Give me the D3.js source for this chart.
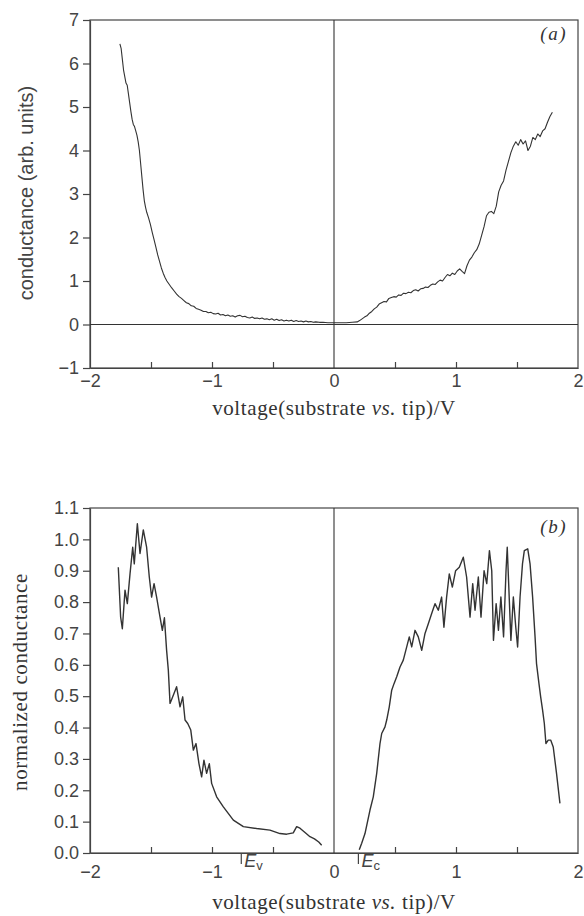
<!DOCTYPE html>
<html>
<head>
<meta charset="utf-8">
<title>conductance spectra</title>
<script src="https://cdn.jsdelivr.net/npm/d3@7"></script>
<style>
  body { margin: 0; background: #fff; }
  .axis path, .axis line { stroke: #444; stroke-width: 1.2; }
  .axis text { font-family: "Liberation Sans", Arial, sans-serif; font-size: 18px; fill: #444; }
  .frame { fill: none; stroke: #444; stroke-width: 1.2; }
  .zero { stroke: #333; stroke-width: 1.1; }
  .curve { fill: none; stroke: #333; stroke-linejoin: round; }
  .serif { font-family: "Liberation Serif", "Times New Roman", serif; fill: #333; }
</style>
</head>
<body>
<script>
// panel (a): conductance, arb. units
var aVolt = [-1.755,-1.745,-1.735,-1.725,-1.715,-1.705,-1.695,-1.685,-1.675,-1.665,-1.655,-1.645,-1.635,-1.625,-1.615,-1.605,-1.595,-1.585,-1.575,-1.565,-1.555,-1.545,-1.535,-1.52,-1.505,-1.49,-1.475,-1.46,-1.445,-1.43,-1.415,-1.40,-1.385,-1.37,-1.35,-1.33,-1.31,-1.29,-1.27,-1.25,-1.23,-1.21,-1.19,-1.17,-1.15,-1.13,-1.11,-1.09,-1.07,-1.05,-1.03,-1.01,-0.99,-0.97,-0.95,-0.93,-0.91,-0.89,-0.87,-0.85,-0.83,-0.81,-0.79,-0.77,-0.75,-0.73,-0.71,-0.69,-0.67,-0.65,-0.63,-0.61,-0.59,-0.57,-0.55,-0.53,-0.51,-0.49,-0.47,-0.45,-0.43,-0.41,-0.39,-0.37,-0.35,-0.33,-0.31,-0.29,-0.27,-0.25,-0.23,-0.21,-0.19,-0.17,-0.15,-0.12,-0.09,-0.05,0.0,0.05,0.1,0.15,0.19,0.21,0.23,0.25,0.27,0.29,0.31,0.33,0.35,0.37,0.39,0.41,0.43,0.45,0.47,0.49,0.51,0.53,0.55,0.57,0.59,0.61,0.63,0.65,0.67,0.69,0.71,0.73,0.75,0.77,0.79,0.81,0.83,0.85,0.87,0.89,0.91,0.93,0.95,0.97,0.99,1.01,1.03,1.05,1.07,1.09,1.11,1.13,1.15,1.17,1.19,1.21,1.23,1.25,1.27,1.29,1.31,1.33,1.35,1.37,1.39,1.41,1.43,1.45,1.47,1.49,1.51,1.53,1.55,1.57,1.59,1.61,1.63,1.65,1.67,1.69,1.71,1.73,1.75,1.77,1.79];
var aCond = [6.45,6.35,6.1,5.85,5.7,5.55,5.5,5.3,5.1,4.9,4.72,4.6,4.55,4.45,4.35,4.2,4.0,3.7,3.4,3.1,2.85,2.7,2.58,2.45,2.3,2.12,1.95,1.78,1.6,1.45,1.3,1.18,1.08,1.0,0.92,0.84,0.77,0.7,0.64,0.6,0.55,0.5,0.48,0.43,0.42,0.37,0.35,0.33,0.3,0.3,0.27,0.28,0.25,0.24,0.26,0.22,0.23,0.2,0.22,0.19,0.2,0.17,0.2,0.21,0.18,0.19,0.16,0.15,0.17,0.14,0.15,0.13,0.15,0.12,0.13,0.11,0.13,0.1,0.12,0.09,0.11,0.08,0.1,0.08,0.1,0.07,0.09,0.07,0.08,0.06,0.08,0.06,0.07,0.05,0.06,0.05,0.05,0.04,0.04,0.04,0.04,0.05,0.06,0.09,0.13,0.17,0.2,0.26,0.3,0.36,0.4,0.47,0.5,0.53,0.52,0.6,0.62,0.64,0.63,0.68,0.67,0.72,0.71,0.74,0.73,0.78,0.8,0.77,0.82,0.83,0.86,0.85,0.9,0.93,0.92,0.98,1.02,1.0,1.08,1.15,1.12,1.18,1.15,1.23,1.28,1.22,1.17,1.35,1.48,1.55,1.65,1.72,1.85,2.05,2.25,2.5,2.58,2.6,2.55,2.72,3.05,3.2,3.3,3.55,3.75,3.95,4.1,4.2,4.12,4.25,4.15,4.22,4.0,4.1,4.3,4.25,4.38,4.32,4.45,4.5,4.65,4.78,4.88];

// panel (b): normalized conductance, two branches either side of the gap
var bLeftVolt = [-1.768,-1.749,-1.735,-1.713,-1.694,-1.672,-1.65,-1.637,-1.612,-1.59,-1.563,-1.536,-1.514,-1.495,-1.475,-1.454,-1.426,-1.407,-1.39,-1.372,-1.358,-1.344,-1.322,-1.29,-1.262,-1.24,-1.221,-1.199,-1.174,-1.153,-1.131,-1.107,-1.085,-1.066,-1.044,-1.022,-1.003,-0.962,-0.907,-0.825,-0.743,-0.634,-0.525,-0.443,-0.388,-0.334,-0.306,-0.279,-0.24,-0.197,-0.16,-0.125,-0.101];
var bLeftCond = [0.911,0.753,0.715,0.838,0.795,0.89,0.975,0.922,1.05,0.955,1.03,0.975,0.88,0.816,0.859,0.816,0.752,0.71,0.75,0.646,0.583,0.477,0.498,0.53,0.466,0.498,0.424,0.413,0.392,0.328,0.349,0.285,0.243,0.296,0.254,0.285,0.222,0.179,0.147,0.105,0.084,0.078,0.073,0.062,0.06,0.064,0.084,0.079,0.066,0.052,0.045,0.035,0.025];
var bRightVolt = [0.207,0.227,0.254,0.295,0.322,0.35,0.377,0.391,0.418,0.432,0.453,0.473,0.492,0.514,0.541,0.568,0.596,0.617,0.637,0.664,0.691,0.719,0.746,0.773,0.8,0.828,0.855,0.882,0.901,0.923,0.945,0.97,0.997,1.027,1.06,1.087,1.115,1.137,1.156,1.183,1.205,1.23,1.252,1.274,1.293,1.307,1.329,1.348,1.368,1.39,1.41,1.42,1.436,1.45,1.47,1.49,1.505,1.525,1.545,1.56,1.588,1.607,1.628,1.648,1.66,1.68,1.694,1.71,1.724,1.737,1.756,1.776,1.797,1.824,1.852];
var bRightCond = [0.01,0.031,0.062,0.137,0.179,0.254,0.349,0.381,0.402,0.424,0.466,0.519,0.54,0.562,0.593,0.615,0.657,0.689,0.657,0.71,0.689,0.646,0.7,0.731,0.763,0.795,0.774,0.816,0.72,0.816,0.89,0.848,0.9,0.911,0.943,0.88,0.752,0.859,0.774,0.88,0.752,0.9,0.859,0.964,0.9,0.678,0.795,0.71,0.816,0.689,0.9,0.975,0.816,0.678,0.816,0.72,0.657,0.816,0.922,0.964,0.97,0.922,0.816,0.689,0.604,0.54,0.498,0.455,0.413,0.349,0.36,0.36,0.338,0.254,0.158];

var aYTicks = [-1, 0, 1, 2, 3, 4, 5, 6, 7];
var bYTicks = [0, 0.1, 0.2, 0.3, 0.4, 0.5, 0.6, 0.7, 0.8, 0.9, 1.0, 1.1];
var xTicks = [-2, -1.5, -1, -0.5, 0, 0.5, 1, 1.5, 2];
var edgeVolt = [-0.76, 0.2];
var edgeName = ["v", "c"];

var width = 584, height = 916;
var svg = d3.select("body").append("svg")
    .attr("width", width)
    .attr("height", height);

var x = d3.scaleLinear().domain([-2, 2]).range([90, 578]);
var yA = d3.scaleLinear().domain([-1, 7]).range([368, 20]);
var yB = d3.scaleLinear().domain([0, 1.1]).range([853, 508]);

function fmtX(d) {
    return Number.isInteger(d) ? d3.format("d")(d) : "";
}

function drawPanel(y, yTicks, yFmt, labelDy) {
    var g = svg.append("g");
    var r = y.range();
    g.append("rect").attr("class", "frame")
        .attr("x", x(-2)).attr("y", r[1])
        .attr("width", x(2) - x(-2)).attr("height", r[0] - r[1]);

    g.append("line").attr("class", "zero")
        .attr("x1", x(0)).attr("x2", x(0))
        .attr("y1", r[1]).attr("y2", r[0]);

    g.append("g").attr("class", "axis")
        .attr("transform", "translate(" + x(-2) + ",0)")
        .call(d3.axisLeft(y).tickValues(yTicks).tickFormat(yFmt).tickSizeInner(7).tickSizeOuter(0).tickPadding(4));

    var xa = g.append("g").attr("class", "axis")
        .attr("transform", "translate(0," + r[0] + ")")
        .call(d3.axisBottom(x).tickValues(xTicks).tickFormat(fmtX).tickSizeInner(-6).tickSizeOuter(0));
    xa.selectAll("text").attr("y", labelDy).attr("dy", 0);
    // the end ticks and the zero tick sit on the frame / zero line
    xa.selectAll(".tick line").filter(function(d) { return d === -2 || d === 2 || d === 0; }).remove();
    return g;
}

function xLabel(g, yPos) {
    var t = g.append("text").attr("class", "serif")
        .attr("x", 334).attr("y", yPos).attr("text-anchor", "middle")
        .attr("font-size", 21).attr("letter-spacing", 0.6);
    t.append("tspan").text("voltage(substrate ");
    t.append("tspan").attr("font-style", "italic").text("vs.");
    t.append("tspan").text(" tip)/V");
}

// ---- panel (a)
var gA = drawPanel(yA, aYTicks, d3.format("d"), 19);
gA.append("line").attr("class", "zero")
    .attr("x1", x(-2)).attr("x2", x(2))
    .attr("y1", yA(0)).attr("y2", yA(0));

var lineA = d3.line()
    .x(function(d, i) { return x(aVolt[i]); })
    .y(function(d) { return yA(d); });
gA.append("path").attr("class", "curve")
    .attr("stroke-width", 1.1)
    .attr("d", lineA(aCond));

gA.append("text").attr("class", "serif")
    .attr("x", 567).attr("y", 40).attr("text-anchor", "end")
    .attr("font-size", 19).attr("font-style", "italic").attr("letter-spacing", 1.5)
    .text("(a)");

xLabel(gA, 415);

gA.append("text")
    .attr("transform", "translate(33,193) rotate(-90)")
    .attr("text-anchor", "middle")
    .attr("font-family", "'Liberation Sans', Arial, sans-serif")
    .attr("font-size", 20).attr("fill", "#444")
    .text("conductance (arb. units)");

// ---- panel (b)
var gB = drawPanel(yB, bYTicks, d3.format(".1f"), 25);

var lineBL = d3.line()
    .x(function(d, i) { return x(bLeftVolt[i]); })
    .y(function(d) { return yB(d); });
var lineBR = d3.line()
    .x(function(d, i) { return x(bRightVolt[i]); })
    .y(function(d) { return yB(d); });
gB.append("path").attr("class", "curve")
    .attr("stroke-width", 1.4)
    .attr("d", lineBL(bLeftCond));
gB.append("path").attr("class", "curve")
    .attr("stroke-width", 1.4)
    .attr("d", lineBR(bRightCond));

// band edge markers
var edges = gB.selectAll("g.edge")
    .data(edgeVolt)
  .enter().append("g")
    .attr("class", "edge")
    .attr("transform", function(d) { return "translate(" + x(d) + "," + yB(0) + ")"; });
edges.append("line")
    .attr("y1", 0).attr("y2", 11)
    .attr("stroke", "#444").attr("stroke-width", 1.2);
var et = edges.append("text")
    .attr("x", 3).attr("y", 14)
    .attr("font-family", "'Liberation Sans', Arial, sans-serif")
    .attr("font-size", 18).attr("fill", "#444");
et.append("tspan").attr("font-style", "italic").text("E");
et.append("tspan").attr("font-size", 13).attr("dy", 3)
    .text(function(d, i) { return edgeName[i]; });

gB.append("text").attr("class", "serif")
    .attr("x", 567).attr("y", 533).attr("text-anchor", "end")
    .attr("font-size", 19).attr("font-style", "italic").attr("letter-spacing", 1.5)
    .text("(b)");

xLabel(gB, 909);

gB.append("text").attr("class", "serif")
    .attr("transform", "translate(27,682) rotate(-90)")
    .attr("text-anchor", "middle")
    .attr("font-size", 21).attr("letter-spacing", 0.6)
    .text("normalized conductance");
</script>
</body>
</html>
